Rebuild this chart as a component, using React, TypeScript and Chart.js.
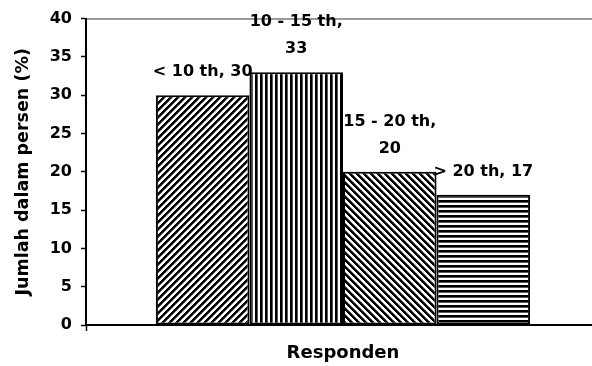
import React, { useEffect, useRef } from "react";
import { Chart, registerables } from "chart.js";

Chart.register(...registerables);

// ---- data ----
const categoryLabels = [""];
const seriesNames = ["< 10 th", "10 - 15 th", "15 - 20 th", "> 20 th"];
const seriesValues = [30, 33, 20, 17];
const hatchKinds = ["fwd", "vert", "back", "horiz"];
const yMin = 0;
const yMax = 40;
const yStep = 5;
const yTitle = "Jumlah dalam persen (%)";
const xTitle = "Responden";

const FONT = '"DejaVu Sans", "Liberation Sans", Arial, sans-serif';

function makeHatch(kind: string): CanvasPattern | string {
  const c = document.createElement("canvas");
  const diag = kind === "fwd" || kind === "back";
  const p = diag ? 7 : 5;
  c.width = p;
  c.height = p;
  const g = c.getContext("2d");
  if (!g) return "#000";
  const img = g.createImageData(p, p);
  for (let y = 0; y < p; y++) {
    for (let x = 0; x < p; x++) {
      let v = 255;
      if (kind === "fwd") {
        const m = (x + y) % p;
        v = m < 3 ? 0 : m === 3 ? 110 : 255;
      } else if (kind === "back") {
        const m = (((x - y) % p) + p) % p;
        v = m < 3 ? 0 : m === 3 ? 110 : 255;
      } else if (kind === "vert") {
        v = x < 2 ? 0 : x === 2 ? 90 : 255;
      } else {
        v = y < 2 ? 0 : y === 2 ? 90 : 255;
      }
      const idx = (y * p + x) * 4;
      img.data[idx] = v;
      img.data[idx + 1] = v;
      img.data[idx + 2] = v;
      img.data[idx + 3] = 255;
    }
  }
  g.putImageData(img, 0, 0);
  return g.createPattern(c, "repeat") || "#000";
}

const barLabelPlugin = {
  id: "barLabels",
  afterDatasetsDraw(chart: any) {
    const ctx = chart.ctx as CanvasRenderingContext2D;
    ctx.save();
    ctx.font = `bold 16px ${FONT}`;
    ctx.fillStyle = "#000";
    ctx.textAlign = "center";
    ctx.textBaseline = "alphabetic";
    chart.data.datasets.forEach((ds: any, i: number) => {
      const meta = chart.getDatasetMeta(i);
      const el = meta.data[0];
      if (!el) return;
      const { x, y, width } = el.getProps(["x", "y", "width"], true);
      const value = ds.data[0];
      const full = `${ds.label}, ${value}`;
      const lines =
        ctx.measureText(full).width > width + 10
          ? [`${ds.label},`, String(value)]
          : [full];
      lines.forEach((t, k) => {
        ctx.fillText(t, x, y - 19 - (lines.length - 1 - k) * 27);
      });
    });
    ctx.restore();
  },
};

export default function App() {
  const canvasRef = useRef<HTMLCanvasElement | null>(null);

  useEffect(() => {
    const canvas = canvasRef.current;
    if (!canvas) return;
    const datasets = seriesNames.map((name, i) => ({
      label: name,
      data: [seriesValues[i]],
      backgroundColor: makeHatch(hatchKinds[i]) as any,
      borderColor: "#000",
      borderWidth: 2,
      borderSkipped: false as const,
      categoryPercentage: 0.728,
      barPercentage: 1,
    }));

    const chart = new Chart(canvas, {
      type: "bar",
      data: { labels: categoryLabels, datasets },
      plugins: [barLabelPlugin],
      options: {
        animation: false,
        responsive: false,
        devicePixelRatio: 1,
        layout: { padding: 0 },
        plugins: {
          legend: { display: false },
          tooltip: { enabled: false },
          title: { display: false },
        },
        scales: {
          x: {
            type: "category",
            position: "bottom",
            offset: true,
            grid: {
              display: true,
              drawOnChartArea: false,
              drawTicks: true,
              tickLength: 6,
              tickColor: "#000",
              tickWidth: 1.5,
              offset: true,
            },
            border: { display: true, color: "#000", width: 2 },
            ticks: { display: false },
            title: {
              display: true,
              text: xTitle,
              color: "#000",
              font: { family: FONT, size: 18, weight: "bold" },
              padding: { top: 0, bottom: 2 },
            },
            afterFit(scale: any) {
              scale.height = 41;
            },
          },
          x2: {
            type: "category",
            position: "top",
            labels: categoryLabels,
            grid: { display: false },
            ticks: { display: false },
            border: { display: true, color: "#9a9a9a", width: 2 },
            afterFit(scale: any) {
              scale.height = 18;
            },
          },
          y: {
            type: "linear",
            position: "left",
            min: yMin,
            max: yMax,
            ticks: {
              stepSize: yStep,
              color: "#000",
              padding: 9,
              font: { family: FONT, size: 16, weight: "bold" },
            },
            grid: {
              display: true,
              drawOnChartArea: false,
              drawTicks: true,
              tickLength: 5,
              tickColor: "#000",
              tickWidth: 1.5,
            },
            border: { display: true, color: "#000", width: 2 },
            title: {
              display: true,
              text: yTitle,
              color: "#000",
              font: { family: FONT, size: 17.5, weight: "bold" },
              padding: { top: 13, bottom: 0 },
            },
            afterFit(scale: any) {
              scale.width = 86;
            },
          },
        },
      } as any,
    });

    return () => {
      chart.destroy();
    };
  }, []);

  return (
    <div
      style={{
        position: "fixed",
        left: 0,
        top: 0,
        width: 592,
        height: 366,
        overflow: "hidden",
        background: "#fff",
      }}
    >
      <canvas
        ref={canvasRef}
        width={600}
        height={366}
        style={{ display: "block", width: 600, height: 366 }}
      />
    </div>
  );
}
